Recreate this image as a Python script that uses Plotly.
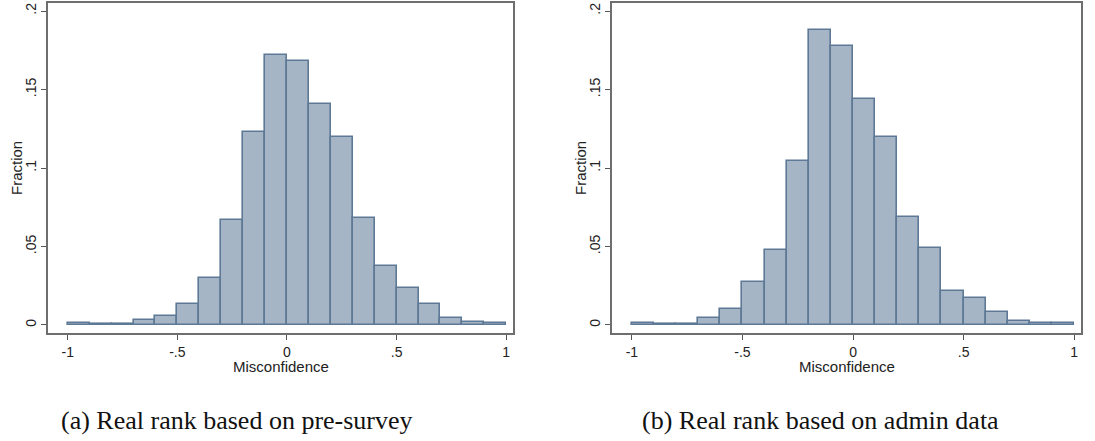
import plotly.graph_objects as go

bin_left = [-1.0, -0.9, -0.8, -0.7, -0.6, -0.5, -0.4, -0.3, -0.2, -0.1,
            0.0, 0.1, 0.2, 0.3, 0.4, 0.5, 0.6, 0.7, 0.8, 0.9]
bin_width = 0.1
frac_presurvey = [0.0010, 0.0004, 0.0004, 0.0030, 0.0060, 0.0134, 0.0297, 0.0669,
                  0.1227, 0.1720, 0.1680, 0.1410, 0.1195, 0.0684, 0.0376, 0.0238,
                  0.0134, 0.0042, 0.0017, 0.0013]
frac_admin = [0.0010, 0.0004, 0.0004, 0.0042, 0.0100, 0.0272, 0.0480, 0.1042,
              0.1877, 0.1777, 0.1440, 0.1200, 0.0688, 0.0490, 0.0217, 0.0174,
              0.0081, 0.0028, 0.0013, 0.0010]
x_ticks = [-1, -0.5, 0, 0.5, 1]
x_tick_labels = ["-1", "-.5", "0", ".5", "1"]
y_ticks = [0, 0.05, 0.1, 0.15, 0.2]
y_tick_labels = ["0", ".05", ".1", ".15", ".2"]
captions = ["(a) Real rank based on pre-survey", "(b) Real rank based on admin data"]
x_title = "Misconfidence"
y_title = "Fraction"

W, H = 1095, 441
centers = [b + bin_width / 2 for b in bin_left]

fill = "#A6B5C5"
edge = "#5D7996"
sans = "Liberation Sans, Arial, sans-serif"
serif = "Liberation Serif, DejaVu Serif, serif"

fig = go.Figure()
panels = [
    (frac_presurvey, "x", "y", (48, 513)),
    (frac_admin, "x2", "y2", (612, 1081)),
]
top_px, bot_px = 3, 333
for vals, xa, ya, _ in panels:
    fig.add_trace(go.Bar(
        x=centers, y=vals, width=bin_width, xaxis=xa, yaxis=ya,
        marker=dict(color=fill, line=dict(color=edge, width=1.6)),
        showlegend=False, hoverinfo="x+y"))

layout = dict(
    width=W, height=H, margin=dict(l=0, r=0, t=0, b=0),
    paper_bgcolor="white", plot_bgcolor="white", bargap=0,
    font=dict(family=sans, size=14, color="#222"),
)
ydom = [1 - bot_px / H, 1 - top_px / H]
axis_common = dict(showline=True, linecolor="#6e6e6e", linewidth=1.5, mirror=True,
                   ticks="outside", ticklen=5, tickcolor="#555", tickwidth=1,
                   showgrid=False, zeroline=False,
                   tickfont=dict(family=sans, size=14, color="#222"))
for i, (vals, xa, ya, (x0, x1)) in enumerate(panels):
    suffix = "" if i == 0 else "2"
    layout["xaxis" + suffix] = dict(
        axis_common, domain=[x0 / W, x1 / W], anchor="y" + suffix,
        range=[-1.09, 1.031], tickvals=x_ticks, ticktext=x_tick_labels)
    layout["yaxis" + suffix] = dict(
        axis_common, domain=ydom, anchor="x" + suffix,
        range=[-0.0051, 0.2051], tickvals=y_ticks, ticktext=y_tick_labels,
        tickangle=-90)
fig.update_layout(**layout)

title_font = dict(family=sans, size=15, color="#222")
for (vals, xa, ya, (x0, x1)) in panels:
    fig.add_annotation(text=x_title, x=(x0 + x1) / 2 / W, y=1 - 366 / H,
                       xref="paper", yref="paper", showarrow=False,
                       xanchor="center", yanchor="middle", font=title_font)
    fig.add_annotation(text=y_title, x=(x0 - 32) / W, y=1 - (top_px + bot_px) / 2 / H,
                       xref="paper", yref="paper", showarrow=False, textangle=-90,
                       xanchor="center", yanchor="middle", font=title_font)

cap_x = [237, 820]
for cx, txt in zip(cap_x, captions):
    fig.add_annotation(text=txt, x=cx / W, y=1 - 420 / H, xref="paper", yref="paper",
                       showarrow=False, xanchor="center", yanchor="middle",
                       font=dict(family=serif, size=26, color="#111"))

fig.write_html("out.html")
